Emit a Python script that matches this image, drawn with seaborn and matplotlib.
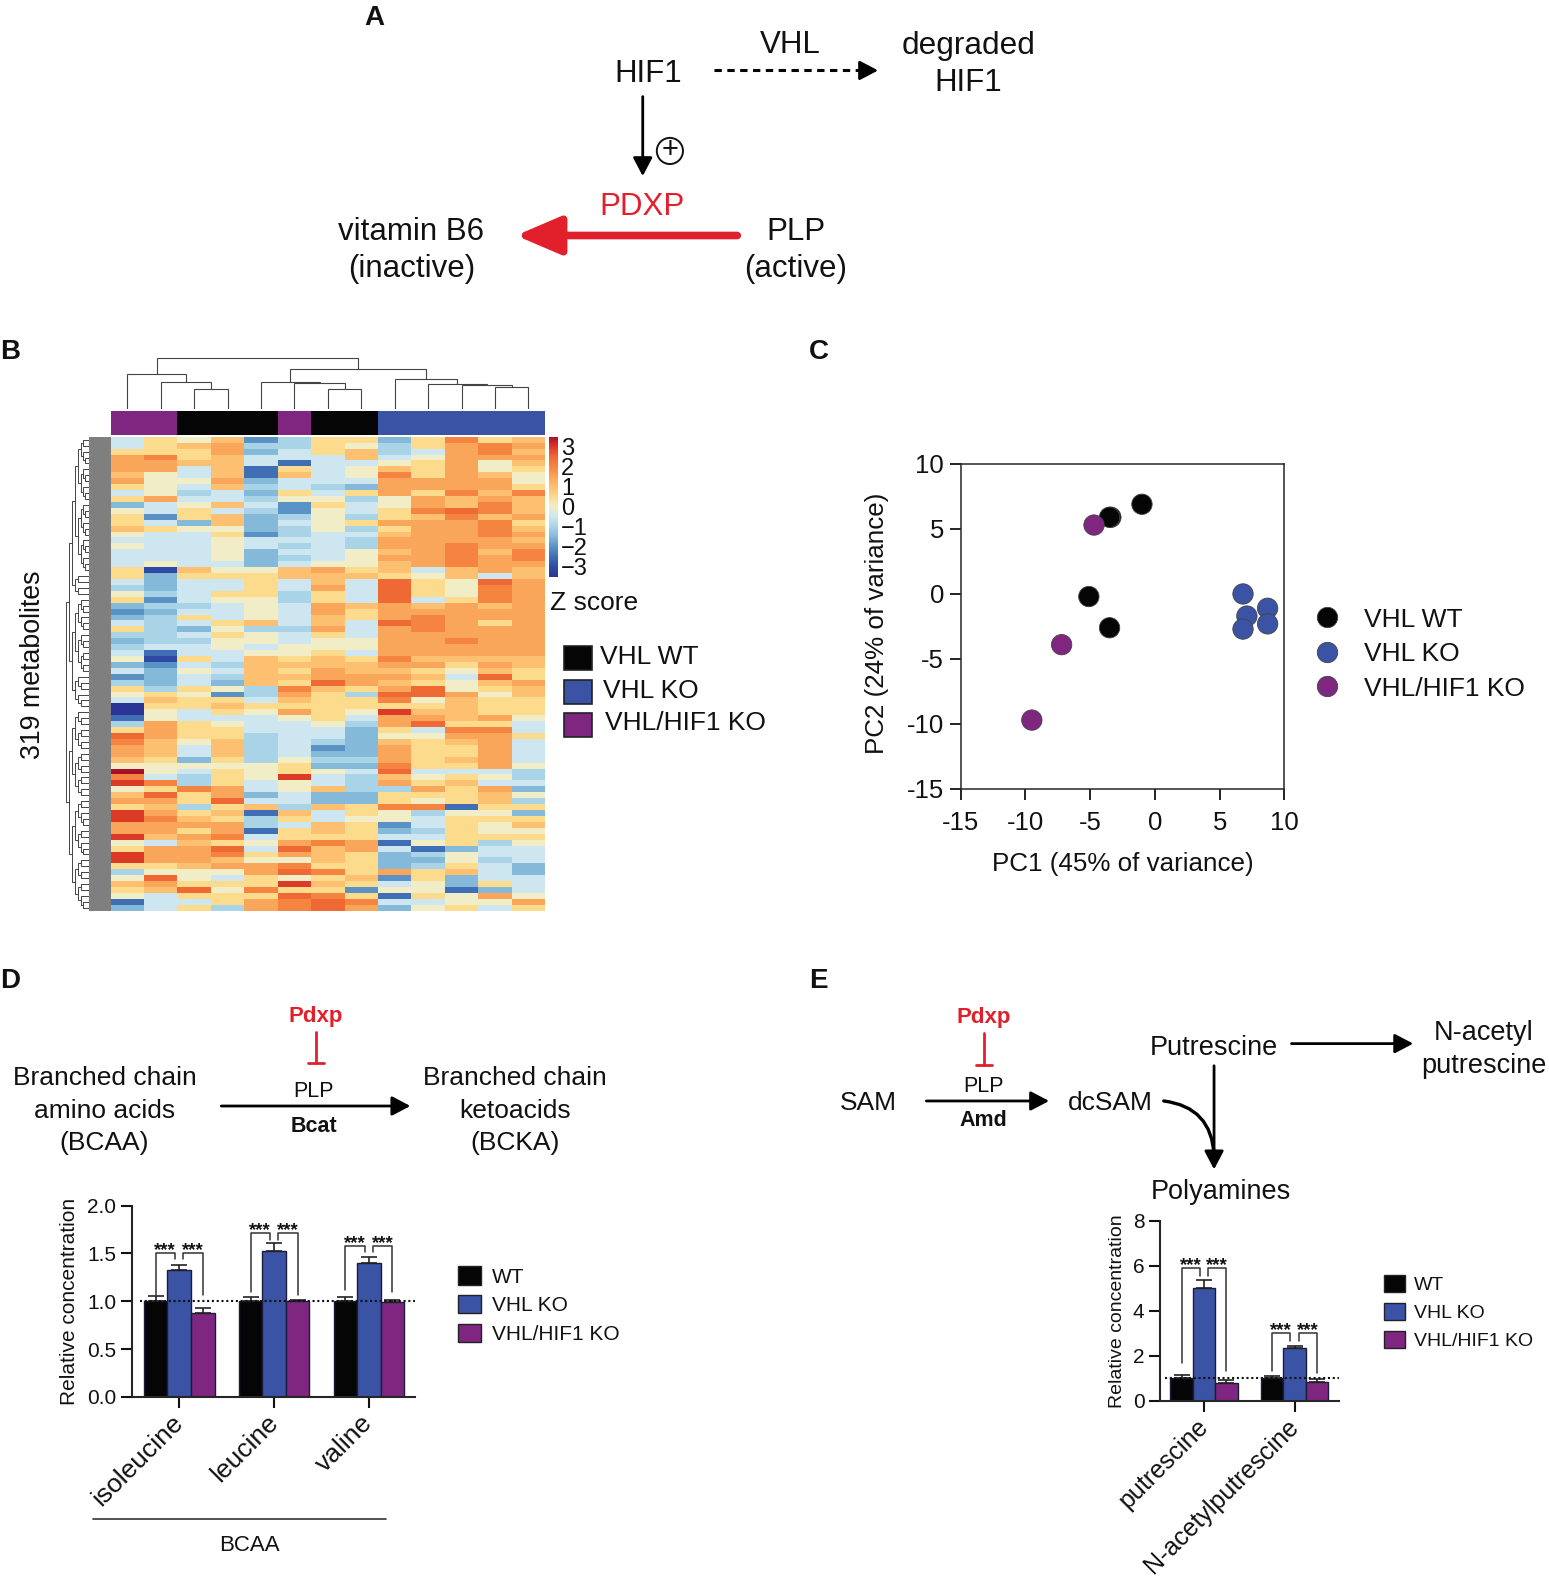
import matplotlib
matplotlib.use("Agg")
import matplotlib.pyplot as plt
from matplotlib.patches import Rectangle, Circle, Patch
from matplotlib.colors import ListedColormap, LinearSegmentedColormap
import numpy as np
import pandas as pd
import seaborn as sns

sns.set_theme(style="ticks")
plt.rcParams['font.family'] = ['Liberation Sans', 'DejaVu Sans']
plt.rcParams['axes.linewidth'] = 1.5
plt.rcParams['xtick.major.width'] = 1.5
plt.rcParams['ytick.major.width'] = 1.5
plt.rcParams['xtick.color'] = '#111111'
plt.rcParams['ytick.color'] = '#111111'
plt.rcParams['text.color'] = '#111111'
plt.rcParams['axes.labelcolor'] = '#111111'

BLACK, BLUE, PURPLE, RED = '#050505', '#3a53a4', '#7f2680', '#e2202c'
W, H = 1540.0, 1568.0

# ---------- data ----------
# heat map: Z score in half units, read band by band
heat_upper = [
 [-1,1,0,2,-4,-2,1,1,-3,1,4,1,2],[-1,1,2,3,-2,-2,1,0,-2,1,3,4,3],[1,1,1,3,-3,-1,1,2,-2,-1,3,4,2],
 [3,4,1,2,-1,-1,-1,2,-1,0,3,3,3],[3,3,2,2,-1,-5,-1,-1,0,1,3,0,2],[3,3,-1,2,-5,1,-1,0,2,1,3,0,1],
 [2,0,-1,2,-5,2,-1,0,4,1,3,2,0],[3,0,0,3,-3,-1,-1,-1,3,3,3,3,0],[1,0,-1,2,-2,-1,-2,-3,3,3,3,3,1],
 [-1,0,-2,-1,-3,1,-1,1,3,1,4,2,4],[1,3,-1,-1,-2,0,0,-2,0,3,2,3,2],[-3,-1,0,2,-1,-4,1,-1,0,3,2,4,2],
 [0,-1,1,-1,-2,-4,0,-1,1,4,5,4,2],[1,-4,1,2,-3,-2,0,-2,1,2,4,2,3],[1,-1,-3,2,-3,-1,0,1,3,3,3,4,1],
 [2,1,0,0,-3,-2,0,-2,1,3,3,4,2],[0,-1,-1,1,-4,-2,-1,-1,2,3,3,4,3],[-1,-1,-1,0,-1,-1,-1,-2,3,3,3,3,2],
 [0,-1,-1,0,-1,-2,-1,-2,3,3,4,3,3],[-1,-1,-1,0,-3,-1,-1,0,2,3,4,2,4],[-1,-1,-1,0,-3,-2,-1,0,3,3,4,3,4],
 [-1,0,-1,-1,-3,-1,0,0,2,3,4,3,3],[1,-6,2,0,0,2,3,1,2,-1,2,3,2],[1,-3,1,1,1,2,2,2,1,0,2,-1,2],
 [-1,-3,-1,-1,1,-1,2,-1,5,1,0,5,3],[-2,-3,-1,-1,1,-1,3,-1,5,1,0,4,3],[0,-2,-1,1,1,-2,1,-1,5,1,0,4,3],
 [1,-4,-1,0,0,-2,1,-1,5,-1,1,4,3],[-3,-2,-2,-1,0,-1,3,2,3,2,3,2,3],[-4,-3,-1,-1,0,-1,3,1,3,3,3,3,3],
 [-3,-2,1,-1,0,-1,2,1,3,4,3,3,3],[-1,-2,-1,1,2,-1,2,-1,5,4,3,1,3],[1,-2,-3,0,-2,-2,3,-1,3,4,3,3,3],
 [-2,-2,-1,1,0,-1,1,-1,3,3,3,3,3],[-3,-2,-2,0,0,-1,0,0,3,3,4,3,3],[-2,-1,-1,0,-1,0,0,0,3,3,3,3,3],
 [-1,-5,-1,-1,0,0,1,-1,3,3,3,3,3],[0,-6,1,-1,2,1,2,1,4,2,2,2,2],[-3,-4,-1,-2,2,2,2,2,3,3,1,3,2],
 [-1,-3,0,-1,2,1,3,2,2,1,0,2,1],
]
heat_lower = [
 [-4,-3,-1,-2,2,2,3,3,3,2,-1,5,1],[-2,-3,-1,-3,2,1,5,3,2,1,0,2,3],[1,-2,1,0,-2,4,2,1,3,5,0,1,2],
 [0,1,0,-4,-2,3,1,-2,5,5,3,0,2],[-1,2,1,1,-1,2,1,1,4,0,2,1,1],[-7,1,1,2,1,1,1,1,1,1,2,1,1],
 [-7,0,-1,1,0,3,1,0,6,2,2,1,1],[-5,0,-1,-1,-1,0,1,-1,3,3,2,3,0],[-2,3,1,0,-1,-1,0,-2,3,5,1,1,-1],
 [1,3,1,1,-1,-1,-1,-3,1,-1,4,4,-1],[5,3,1,1,-2,-1,-1,-3,0,0,3,3,1],[4,2,0,2,-2,-1,-2,-3,2,1,2,3,-1],
 [3,2,-1,2,-2,-1,-4,-3,3,1,1,3,-1],[3,2,-1,2,-2,-1,-3,-3,3,1,1,3,-1],[2,1,-3,1,-2,0,-2,-2,3,1,2,3,-1],
 [0,0,0,0,0,1,-3,-3,4,1,1,3,0],[7,0,-1,1,0,1,0,-1,5,-1,-1,-1,-2],[4,-1,-2,1,0,6,-1,-2,2,0,1,0,-2],
 [6,4,-2,1,-1,0,-1,-2,3,1,2,-1,-1],[0,1,4,3,-1,0,2,-2,-2,3,1,3,-3],[2,5,1,3,-3,-1,-3,-3,1,1,1,2,0],
 [3,3,1,5,-1,-1,-3,-3,1,0,1,2,-2],[1,2,-2,1,2,-2,2,1,4,4,-5,1,1],[6,3,1,2,-5,2,-1,1,0,-2,0,0,-3],
 [6,4,2,1,-2,1,-1,0,0,-1,1,1,1],[3,3,3,3,-2,-1,2,1,-4,-1,1,0,2],[3,3,1,3,-5,1,2,1,-3,-2,1,0,0],
 [6,2,3,4,-1,1,1,1,-1,-1,1,1,1],[0,-1,2,1,0,3,4,3,-5,0,1,-2,0],[1,3,3,5,-1,5,2,3,-1,-5,-3,-1,-1],
 [6,3,3,4,1,3,2,1,-3,-2,0,-1,-1],[6,3,3,2,0,0,2,1,-3,-3,0,-2,-1],[1,1,2,3,3,4,1,1,-3,-2,1,-1,-3],
 [-2,0,0,0,3,5,4,1,3,1,2,-1,-3],[0,5,0,-1,1,0,1,2,-4,1,-3,-1,-1],[2,3,1,1,1,6,2,1,-1,0,-3,1,-1],
 [1,2,5,0,4,1,1,-4,0,0,-5,-3,-1],[0,-1,1,1,1,5,4,1,-5,1,0,3,0],[-5,-1,-1,1,3,4,5,4,-1,-1,0,0,3],
 [-3,-1,1,-2,3,4,5,3,-3,0,1,-1,1],
]
heat_colours = ['#2a3596', '#2f4aa5', '#3f6fb5', '#5b93c6', '#85b9da', '#a9d3e6', '#cfe6f0',
                '#f1edc8', '#fddb8c', '#fdc070', '#faa65a', '#f58540', '#ee6a34', '#dc3b26', '#a8102a']
# 0 = VHL WT, 1 = VHL KO, 2 = VHL/HIF1 KO for each heat-map column
column_groups = [2,2,0,0,0,2,0,0,1,1,1,1,1]
# column dendrogram as (height, left, right)
column_tree = (50,
    (34, 0, (26, 1, (19, 2, 3))),
    (39, (26, 4, (25, 5, (19, 6, 7))),
         (29, 8, (24, 9, (23, 10, (21, 11, 12))))))
row_cluster_sizes = [23, 4, 13, 6, 7, 8, 10, 9]
row_tree_heights = [23, 20, 17, 14, 11, 8, 6, 4, 2, 1]

pca_wt_x = [-3.4, -3.5, -1.0, -5.1, -3.5]
pca_wt_y = [5.9, 5.9, 6.9, -0.2, -2.6]
pca_ko_x = [6.8, 8.7, 7.1, 6.8, 8.7]
pca_ko_y = [0.0, -1.1, -1.7, -2.7, -2.3]
pca_dko_x = [-4.7, -7.2, -9.5]
pca_dko_y = [5.3, -3.9, -9.7]
pca_ticks = [-15, -10, -5, 0, 5, 10]

genotypes = ['WT', 'VHL KO', 'VHL/HIF1 KO']
bcaa_names = ['isoleucine', 'leucine', 'valine']
bcaa_values = [[1.0, 1.33, 0.88], [1.0, 1.53, 1.0], [1.0, 1.40, 0.99]]
bcaa_errors = [[0.05, 0.05, 0.05], [0.04, 0.08, 0.01], [0.04, 0.06, 0.02]]
bcaa_brackets = [[1.07, 1.50, 1.44, 1.07], [1.10, 1.71, 1.64, 1.07], [1.12, 1.58, 1.51, 1.10]]
poly_names = ['putrescine', 'N-acetylputrescine']
poly_values = [[1.0, 5.0, 0.78], [1.0, 2.37, 0.85]]
poly_errors = [[0.17, 0.37, 0.15], [0.10, 0.08, 0.13]]
poly_brackets = [[1.67, 5.90, 5.55, 1.33], [1.33, 3.00, 2.67, 1.26]]

# ---------- helpers ----------
fig = plt.figure(figsize=(15.49, 15.78), dpi=100)

def box(x0, y0, x1, y1, **kw):
    return fig.add_axes([x0/W, 1-y1/H, (x1-x0)/W, (y1-y0)/H], **kw)

def draw_col_tree(ax, node):
    if isinstance(node, int):
        return node + 0.5, 0
    h, l, r = node
    xl, yl = draw_col_tree(ax, l)
    xr, yr = draw_col_tree(ax, r)
    ax.plot([xl, xl, xr, xr], [yl, h, h, yr], color='#444444', lw=0.8, solid_joinstyle='miter')
    return (xl+xr)/2, h

def build_row_tree(leaves, depth):
    if len(leaves) == 1:
        return leaves[0]
    m = len(leaves)//2
    return (depth, build_row_tree(leaves[:m], depth+1), build_row_tree(leaves[m:], depth+1))

def draw_row_tree(ax, node):
    if not isinstance(node, tuple):
        return node, 0
    d, a, b = node
    ya, xa = draw_row_tree(ax, a)
    yb, xb = draw_row_tree(ax, b)
    h = row_tree_heights[min(d, len(row_tree_heights)-1)]
    ax.plot([xa, h, h, xb], [ya, ya, yb, yb], color='#444444', lw=0.7)
    return (ya+yb)/2, h

def group_tree(sizes, start):
    nodes = []
    pos = start
    for s in sizes:
        nodes.append(build_row_tree([pos+i+0.5 for i in range(s)], 3))
        pos += s
    def merge(ns, d):
        if len(ns) == 1:
            return ns[0]
        m = len(ns)//2
        return (d, merge(ns[:m], d+1), merge(ns[m:], d+1))
    return merge(nodes, 0)

def grouped_bars(ax, names, values, errors, brackets, star_fs, ymax, yticks, ylabels, xlim, ylab_fs, tick_fs, cat_fs, cat_offset):
    df = pd.DataFrame({
        'item': [n for n in names for _ in genotypes],
        'genotype': genotypes*len(names),
        'value': np.ravel(values)})
    sns.barplot(data=df, x='item', y='value', hue='genotype', hue_order=genotypes,
                palette=[BLACK, BLUE, PURPLE], width=0.745, saturation=1, errorbar=None,
                edgecolor='#1c1c3a', linewidth=1.0, legend=False, ax=ax)
    bars = sorted([p for p in ax.patches if p.get_width() > 0], key=lambda p: p.get_x())
    centres = [[bars[3*j+i].get_x()+bars[3*j+i].get_width()/2 for i in range(3)] for j in range(len(names))]
    gap = 0.18*bars[0].get_width()
    for j in range(len(names)):
        for i in range(3):
            ax.errorbar(centres[j][i], values[j][i], yerr=[[0], [errors[j][i]]], fmt='none',
                        ecolor='#222222', elinewidth=1.2, capsize=5.5, capthick=1.2, zorder=1.5)
    ax.axhline(1, xmin=0.03, color='#111111', ls=(0, (1, 1.3)), lw=1.5, zorder=5)
    for j in range(len(names)):
        cs = centres[j]
        low_l, top, drop, low_r = brackets[j]
        ax.plot([cs[0], cs[0], cs[1]-gap, cs[1]-gap], [low_l, top, top, drop], color='#333333', lw=1.1)
        ax.plot([cs[2], cs[2], cs[1]+gap, cs[1]+gap], [low_r, top, top, drop], color='#333333', lw=1.1)
        for sx in [(cs[0]+cs[1]-gap)/2, (cs[2]+cs[1]+gap)/2]:
            ax.annotate('***', xy=(sx, top), xytext=(0, -1.5), textcoords='offset points',
                        ha='center', va='baseline', fontsize=star_fs, fontweight='bold')
    ax.set_xlim(*xlim)
    ax.set_ylim(0, ymax)
    ax.set_yticks(yticks)
    ax.set_yticklabels(ylabels, fontsize=tick_fs)
    ax.set_xticks(range(len(names)))
    ax.set_xticklabels([''] * len(names))
    for i, name in enumerate(names):
        ax.annotate(name, xy=(i, 0), xycoords=ax.get_xaxis_transform(), xytext=cat_offset,
                    textcoords='offset points', rotation=45, rotation_mode='anchor',
                    ha='right', va='top', fontsize=cat_fs, annotation_clip=False)
    ax.tick_params(length=8, width=1.5, pad=3)
    ax.set_xlabel('')
    ax.set_ylabel('Relative concentration', fontsize=ylab_fs)
    sns.despine(ax=ax)

# ---------- panel B ----------
ax_heat = box(110, 434, 542, 905)
ax_cbar = box(546, 434, 555, 573)
heat = np.array(heat_upper + heat_lower) / 2.0
heat_cmap = LinearSegmentedColormap.from_list('zscore', heat_colours)
sns.heatmap(heat, ax=ax_heat, cmap=heat_cmap, vmin=-3.5, vmax=3.5, cbar=True, cbar_ax=ax_cbar,
            xticklabels=False, yticklabels=False)
ax_cbar.set_yticks([-3, -2, -1, 0, 1, 2, 3])
ax_cbar.set_yticklabels(['\u22123', '\u22122', '\u22121', '0', '1', '2', '3'], fontsize=17)
ax_cbar.tick_params(length=0, pad=2)
for s in ax_cbar.spines.values():
    s.set_visible(False)

ax_top = box(110, 408, 542, 432)
sns.heatmap(np.array([column_groups]), ax=ax_top, cmap=ListedColormap([BLACK, BLUE, PURPLE]),
            vmin=0, vmax=2, cbar=False, xticklabels=False, yticklabels=False)

ax_cd = box(110, 354, 542, 406)
ax_cd.set_xlim(0, 13)
ax_cd.set_ylim(0, 52)
ax_cd.axis('off')
draw_col_tree(ax_cd, column_tree)

ax_rd = box(65, 434, 89, 905)
ax_rd.axis('off')
draw_row_tree(ax_rd, group_tree(row_cluster_sizes, 0))
ax_rd.set_xlim(24, 0)
ax_rd.set_ylim(80, 0)

ax_grey = box(88, 434, 110, 905)
ax_grey.set_facecolor('#7f7f7f')
ax_grey.set_xticks([]); ax_grey.set_yticks([])
for s in ax_grey.spines.values():
    s.set_visible(False)

# ---------- panel C ----------
ax_pca = box(955, 461, 1277, 784)
pca_df = pd.DataFrame({
    'PC1': pca_wt_x + pca_ko_x + pca_dko_x,
    'PC2': pca_wt_y + pca_ko_y + pca_dko_y,
    'group': ['VHL WT']*5 + ['VHL KO']*5 + ['VHL/HIF1 KO']*3})
sns.scatterplot(data=pca_df, x='PC1', y='PC2', hue='group', palette=[BLACK, BLUE, PURPLE],
                s=215, edgecolor='#444444', linewidth=0.6, ax=ax_pca, zorder=3)
ax_pca.set_xlim(-15, 10); ax_pca.set_ylim(-15, 10)
ax_pca.set_xticks(pca_ticks); ax_pca.set_yticks(pca_ticks)
ax_pca.set_xticklabels([str(t) for t in pca_ticks], fontsize=18.5)
ax_pca.set_yticklabels([str(t) for t in pca_ticks], fontsize=18.5)
ax_pca.tick_params(length=8, width=1.3, pad=4)
ax_pca.tick_params(axis='x', pad=8)
ax_pca.set_xlabel('PC1 (45% of variance)', fontsize=18.7)
ax_pca.set_ylabel('PC2 (24% of variance)', fontsize=18.7)
ax_pca.xaxis.set_label_coords(0.5, -0.194)
ax_pca.yaxis.set_label_coords(-0.222, 0.51)
for s in ax_pca.spines.values():
    s.set_linewidth(1.1)
hs, ls = ax_pca.get_legend_handles_labels()
ax_pca.legend(hs, ls, frameon=False, fontsize=19, loc='center left', bbox_to_anchor=(1.05, 0.415),
              labelspacing=0.4, handletextpad=0.4, markerscale=1.0, borderpad=0, borderaxespad=0)

# ---------- panel D ----------
ax_d = box(131, 1198, 413, 1388)
grouped_bars(ax_d, bcaa_names, bcaa_values, bcaa_errors, bcaa_brackets, 13.5, 2.0,
             [0, 0.5, 1, 1.5, 2], ['0.0', '0.5', '1.0', '1.5', '2.0'], (-0.5, 2.49), 15, 15, 19, (-6, -10))
ax_d.yaxis.set_label_coords(-0.185, 0.5)
ax_d.legend(handles=[Patch(facecolor=c, edgecolor='#222222', label=g) for c, g in zip([BLACK, BLUE, PURPLE], genotypes)],
            frameon=False, fontsize=15, loc='center left', bbox_to_anchor=(1.15, 0.48), handlelength=1.1,
            handleheight=1.0, labelspacing=0.4, handletextpad=0.55, borderpad=0, borderaxespad=0)

# ---------- panel E ----------
ax_e = box(1153, 1213, 1331, 1392)
grouped_bars(ax_e, poly_names, poly_values, poly_errors, poly_brackets, 13.5, 8,
             [0, 2, 4, 6, 8], ['0', '2', '4', '6', '8'], (-0.489, 1.489), 14, 15, 18, (-6, -10))
ax_e.yaxis.set_label_coords(-0.19, 0.5)
ax_e.legend(handles=[Patch(facecolor=c, edgecolor='#222222', label=g) for c, g in zip([BLACK, BLUE, PURPLE], genotypes)],
            frameon=False, fontsize=14, loc='center left', bbox_to_anchor=(1.25, 0.49), handlelength=1.1,
            handleheight=1.0, labelspacing=0.45, handletextpad=0.45, borderpad=0, borderaxespad=0)

# ---------- overlay: diagrams and panel letters ----------
ov = fig.add_axes([0, 0, 1, 1], zorder=20)
ov.set_xlim(0, W); ov.set_ylim(H, 0); ov.axis('off'); ov.patch.set_alpha(0)

def T(x, y, s, fs=19, color='#111111', weight='normal', rot=0, ha='center'):
    ov.text(x, y + 2.5, s, fontsize=fs, color=color, fontweight=weight, rotation=rot, ha=ha, va='center')

def A(x0, y0, x1, y1, color='black', lw=2.0, hl=0.8, hw=0.42, ms=14, ls='-', cs=None):
    ov.annotate('', xy=(x1, y1), xytext=(x0, y0),
                arrowprops=dict(arrowstyle=f'-|>,head_length={hl},head_width={hw}', color=color, lw=lw,
                                linestyle=ls, mutation_scale=ms, shrinkA=0, shrinkB=0,
                                connectionstyle=cs or 'arc3'))

for x, y, s in [(372, 15, 'A'), (10, 347, 'B'), (814, 347, 'C'), (10, 972, 'D'), (814, 972, 'E')]:
    T(x, y, s, fs=20, weight='bold')

# A
T(644, 71, 'HIF1', 22.5); T(786, 42, 'VHL', 22.5); T(963, 43, 'degraded', 22.7); T(963, 80, 'HIF1', 22.5)
ov.plot([710, 858], [70, 70], color='black', lw=2.2, ls=(0, (2.4, 1.8)))
A(856, 70, 873, 70)
A(639, 96, 639, 175)
ov.add_patch(Circle((666, 150), 13, fc='white', ec='#111111', lw=1.4))
T(666, 147, '+', 21)
T(638, 203, 'PDXP', 22.5, color=RED)
A(733, 234, 513, 234, color=RED, lw=5.5, hl=1.05, hw=0.45, ms=26)
T(409, 228, 'vitamin B6', 22.5); T(409, 265, '(inactive)', 22.5)
T(791, 228, 'PLP', 22.5); T(791, 265, '(active)', 22.5)

# B
T(33, 658, '319 metabolites', 19.3, rot=90)
T(591, 597, 'Z score', 19)
for y, c, s, tx in [(654, BLACK, 'VHL WT', 597), (688, BLUE, 'VHL KO', 599), (720, PURPLE, 'VHL/HIF1 KO', 601)]:
    ov.add_patch(Rectangle((561, y-12), 28, 24, fc=c, ec='#222222', lw=1.2))
    T(tx, y-4, s, 19, ha='left')

# D
T(104, 1069, 'Branched chain', 19); T(104, 1101, 'amino acids', 19); T(104, 1133, '(BCAA)', 19)
T(512, 1069, 'Branched chain', 19); T(512, 1101, 'ketoacids', 19); T(512, 1133, '(BCKA)', 19)
T(314, 1008, 'Pdxp', 16, color=RED, weight='bold')
ov.plot([314, 314], [1025, 1056], color=RED, lw=2.0)
ov.plot([306, 322], [1056, 1056], color=RED, lw=2.0)
T(312, 1082, 'PLP', 15.5)
A(220, 1099, 408, 1099)
T(312, 1117, 'Bcat', 15.5, weight='bold')
ov.plot([92, 384], [1509, 1509], color='#333333', lw=1.2)
T(248, 1533, 'BCAA', 16)

# E
T(863, 1094, 'SAM', 19); T(1104, 1094, 'dcSAM', 19)
T(978, 1009, 'Pdxp', 16, color=RED, weight='bold')
ov.plot([978, 978], [1026, 1058], color=RED, lw=2.0)
ov.plot([970, 986], [1058, 1058], color=RED, lw=2.0)
T(978, 1077, 'PLP', 15.5)
A(921, 1094, 1043, 1094)
T(978, 1111, 'Amd', 15.5, weight='bold')
T(1207, 1039, 'Putrescine', 19.5)
A(1284, 1037, 1405, 1037)
T(1475, 1024, 'N-acetyl', 19.5); T(1475, 1057, 'putrescine', 19.5)
A(1207, 1059, 1207, 1162)
ov.annotate('', xy=(1207, 1148), xytext=(1157, 1094),
            arrowprops=dict(arrowstyle='-', color='black', lw=2.4, shrinkA=0, shrinkB=0,
                            connectionstyle='arc3,rad=-0.42'))
T(1214, 1182, 'Polyamines', 19.5)

fig.savefig('out.png', dpi=100, facecolor='white')
